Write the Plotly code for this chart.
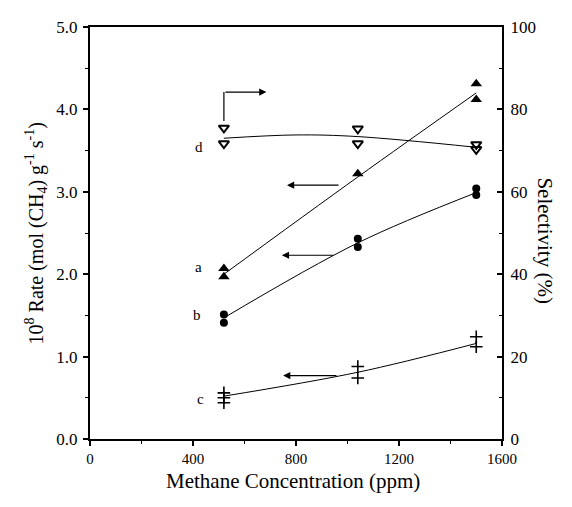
import plotly.graph_objects as go

# ---- data ----
# a: filled triangles (rate)
a_x = [520, 520, 1040, 1500, 1500]
a_y = [2.07, 1.97, 3.22, 4.31, 4.12]
a_fit_x = [520, 1040, 1500]
a_fit_y = [2.0, 3.18, 4.2]

# b: filled circles (rate)
b_x = [520, 520, 1040, 1040, 1500, 1500]
b_y = [1.51, 1.41, 2.43, 2.33, 3.04, 2.96]
b_fit_x = [520, 1040, 1500]
b_fit_y = [1.47, 2.38, 2.99]

# c: crosses (rate)
c_x = [520, 520, 520, 1040, 1040, 1500, 1500]
c_y = [0.56, 0.50, 0.44, 0.88, 0.74, 1.24, 1.12]
c_fit_x = [520, 1040, 1500]
c_fit_y = [0.52, 0.81, 1.16]

# d: open down-triangles (selectivity, %)
d_x = [520, 520, 1040, 1040, 1500, 1500]
d_y = [75.5, 71.7, 75.3, 71.7, 71.5, 70.3]
d_fit_x = [520, 800, 1040, 1500]
d_fit_y = [73.0, 73.8, 73.4, 70.8]

labels = ["a", "b", "c", "d"]
label_x = [421, 415, 430, 424]
label_y = [2.09, 1.50, 0.49, 3.54]

x_ticks = [0, 400, 800, 1200, 1600]
y_ticks = [0.0, 1.0, 2.0, 3.0, 4.0, 5.0]
y2_ticks = [0, 20, 40, 60, 80, 100]

FONT = "Liberation Serif"
BLACK = "black"

fig = go.Figure()

def fit(xs, ys, yaxis="y"):
    fig.add_trace(go.Scatter(x=xs, y=ys, mode="lines", yaxis=yaxis,
                             line=dict(color=BLACK, width=1, shape="spline"),
                             showlegend=False, hoverinfo="skip"))

fit(a_fit_x, a_fit_y)
fit(b_fit_x, b_fit_y)
fit(c_fit_x, c_fit_y)
fit(d_fit_x, d_fit_y, "y2")

fig.add_trace(go.Scatter(x=a_x, y=a_y, mode="markers",
                         marker=dict(symbol="triangle-up", size=10, color=BLACK),
                         showlegend=False))
fig.add_trace(go.Scatter(x=b_x, y=b_y, mode="markers",
                         marker=dict(symbol="circle", size=8, color=BLACK),
                         showlegend=False))
fig.add_trace(go.Scatter(x=c_x, y=c_y, mode="markers",
                         marker=dict(symbol="cross-thin", size=9,
                                     line=dict(color=BLACK, width=1.6)),
                         showlegend=False))
fig.add_trace(go.Scatter(x=d_x, y=d_y, mode="markers", yaxis="y2",
                         marker=dict(symbol="triangle-down-open", size=9,
                                     color=BLACK, line=dict(color=BLACK, width=2)),
                         showlegend=False))

# series labels
for t, lx, ly in zip(labels, label_x, label_y):
    fig.add_annotation(x=lx, y=ly, text=t, showarrow=False,
                       font=dict(family=FONT, size=15, color=BLACK))

# arrows pointing to the axis each series belongs to
arrow_tail_x = [971, 951, 963]
arrow_head_x = [765, 745, 750]
arrow_y = [3.08, 2.23, 0.77]
for tx, hx, yy in zip(arrow_tail_x, arrow_head_x, arrow_y):
    fig.add_annotation(x=hx, y=yy, ax=tx, ay=yy, xref="x", yref="y",
                       axref="x", ayref="y", text="", showarrow=True,
                       arrowhead=2, arrowsize=1.2, arrowwidth=1.2,
                       arrowcolor=BLACK)

# d arrow: up from the point then to the right
d_arrow_x = [520, 685]
d_arrow_y = [3.86, 4.21]
fig.add_shape(type="line", x0=d_arrow_x[0], x1=d_arrow_x[0],
              y0=d_arrow_y[0], y1=d_arrow_y[1], xref="x", yref="y",
              line=dict(color=BLACK, width=1.2))
fig.add_annotation(x=d_arrow_x[1], y=d_arrow_y[1], ax=d_arrow_x[0],
                   ay=d_arrow_y[1], xref="x", yref="y", axref="x", ayref="y",
                   text="", showarrow=True, arrowhead=2, arrowsize=1.2,
                   arrowwidth=1.2, arrowcolor=BLACK)

# axis titles
fig.add_annotation(xref="paper", yref="paper", x=0.493, y=-0.103,
                   xanchor="center", yanchor="middle",
                   text="Methane Concentration (ppm)", showarrow=False,
                   font=dict(family=FONT, size=21, color=BLACK))
fig.add_annotation(xref="paper", yref="paper", x=-0.13, y=0.5,
                   xanchor="center", yanchor="middle",
                   text="10<sup>8</sup> Rate (mol (CH<sub>4</sub>) g<sup>-1</sup> s<sup>-1</sup>)",
                   textangle=-90, showarrow=False,
                   font=dict(family=FONT, size=20, color=BLACK))
fig.add_annotation(xref="paper", yref="paper", x=1.104, y=0.48,
                   xanchor="center", yanchor="middle",
                   text="Selectivity (%)", textangle=90, showarrow=False,
                   font=dict(family=FONT, size=21, color=BLACK))

tickfont = dict(family=FONT, size=17, color=BLACK)
xtickfont = dict(family=FONT, size=15, color=BLACK)

# page body has an 8px default margin, so the figure is shrunk by 8px
fig.update_layout(
    width=564, height=499,
    margin=dict(l=82, r=70, t=10, b=68),
    paper_bgcolor="white", plot_bgcolor="white",
    font=dict(family=FONT, color=BLACK),
    xaxis=dict(range=[0, 1600], tickvals=x_ticks, ticktext=[str(v) for v in x_ticks],
               showgrid=False, zeroline=False, showline=True, linecolor=BLACK,
               linewidth=2, mirror=True, ticks="outside", ticklen=5, tickwidth=1.5,
               tickcolor=BLACK, tickfont=xtickfont, ticklabelstandoff=0,
               minor=dict(dtick=200, ticks="outside", ticklen=3, tickcolor=BLACK,
                          tickwidth=1.2, tick0=0)),
    yaxis=dict(range=[0, 5], tickvals=y_ticks, ticktext=[f"{v:.1f}" for v in y_ticks],
               showgrid=False, zeroline=False, showline=True, linecolor=BLACK,
               linewidth=2, ticks="outside", ticklen=5, tickwidth=1.5,
               tickcolor=BLACK, tickfont=tickfont, ticklabelstandoff=2,
               minor=dict(dtick=0.5, ticks="outside", ticklen=3, tickcolor=BLACK,
                          tickwidth=1.2, tick0=0)),
    yaxis2=dict(range=[0, 100], overlaying="y", side="right", tickvals=y2_ticks,
                ticktext=[str(v) for v in y2_ticks],
                showgrid=False, zeroline=False, showline=True, linecolor=BLACK,
                linewidth=2, ticks="inside", ticklen=5, tickwidth=1.5,
                tickcolor=BLACK, tickfont=tickfont, ticklabelstandoff=3,
                minor=dict(dtick=10, ticks="inside", ticklen=3, tickcolor=BLACK,
                           tickwidth=1.2, tick0=0)),
)

fig.write_html("out.html")
